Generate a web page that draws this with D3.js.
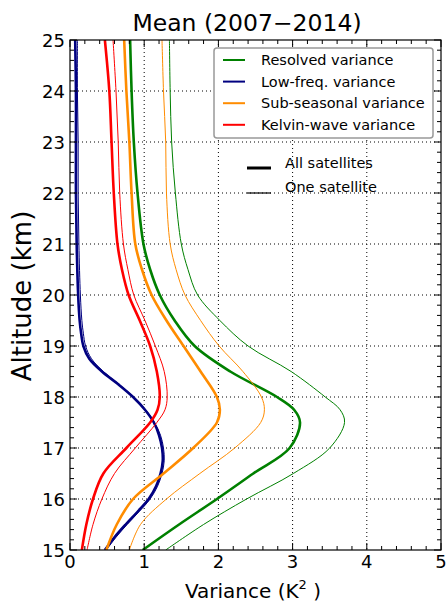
<!DOCTYPE html>
<html><head><meta charset="utf-8">
<script src="https://cdn.jsdelivr.net/npm/d3@7"></script>
<style>body{margin:0;background:#fff}svg{display:block}text{font-family:"DejaVu Sans",sans-serif}</style>
</head><body><svg id="c" width="448" height="604"></svg>
<script>
// Altitudes (km) at which values were read
const altitudes = [25, 24, 23, 22, 21, 20.5, 20, 19.5, 19, 18.5, 18, 17.75, 17.5, 17, 16.5, 16, 15.5, 15];
// Resolved variance (K^2)
const resolvedAll = [0.81, 0.83, 0.86, 0.91, 0.99, 1.08, 1.21, 1.41, 1.68, 2.16, 2.79, 3.02, 3.10, 2.96, 2.47, 1.98, 1.47, 0.98];
const resolvedOne = [1.34, 1.35, 1.37, 1.42, 1.50, 1.59, 1.72, 2.02, 2.40, 2.98, 3.44, 3.64, 3.70, 3.50, 3.01, 2.38, 1.80, 1.29];
// Sub-seasonal variance
const subAll = [0.73, 0.76, 0.80, 0.83, 0.88, 0.97, 1.10, 1.30, 1.53, 1.76, 1.98, 2.02, 1.98, 1.66, 1.26, 0.85, 0.63, 0.49];
const subOne = [1.24, 1.26, 1.29, 1.30, 1.35, 1.43, 1.55, 1.76, 2.01, 2.33, 2.58, 2.62, 2.57, 2.22, 1.75, 1.30, 0.95, 0.80];
// Kelvin-wave variance
const kelvinAll = [0.47, 0.53, 0.56, 0.59, 0.64, 0.70, 0.79, 0.94, 1.08, 1.17, 1.21, 1.18, 1.08, 0.76, 0.45, 0.31, 0.22, 0.16];
const kelvinOne = [0.58, 0.62, 0.65, 0.67, 0.72, 0.78, 0.86, 1.01, 1.15, 1.27, 1.31, 1.28, 1.17, 0.88, 0.60, 0.43, 0.31, 0.23];
// Low-frequency variance (finer altitude grid)
const lowAltitudes = [25, 24, 23, 22, 21, 20, 19.5, 19.25, 19, 18.75, 18.5, 18.25, 18, 17.75, 17.5, 17.25, 17, 16.75, 16.5, 16.25, 16, 15.75, 15.5, 15.25, 15];
const lowAll = [0.07, 0.08, 0.08, 0.08, 0.09, 0.11, 0.13, 0.15, 0.18, 0.26, 0.43, 0.65, 0.85, 1.01, 1.13, 1.20, 1.24, 1.25, 1.22, 1.16, 1.06, 0.91, 0.75, 0.60, 0.47];
const lowOne = [0.10, 0.10, 0.11, 0.11, 0.12, 0.14, 0.16, 0.18, 0.21, 0.29, 0.45, 0.66, 0.86, 1.02, 1.14, 1.22, 1.26, 1.27, 1.24, 1.18, 1.08, 0.93, 0.77, 0.62, 0.49];

const legendLabels = ["Resolved variance", "Low-freq. variance", "Sub-seasonal variance", "Kelvin-wave variance"];
const colors = ["#008000", "#000080", "#ff8c00", "#ff0000"];
const xTicks = [0, 1, 2, 3, 4, 5];
const yTicks = [15, 16, 17, 18, 19, 20, 21, 22, 23, 24, 25];

const svg = d3.select("#c");
const L = 70, R = 441, T = 40, B = 550;
const x = d3.scaleLinear().domain([0, 5]).range([L, R]);
const y = d3.scaleLinear().domain([15, 25]).range([B, T]);

svg.append("defs").append("clipPath").attr("id", "clip")
  .append("rect").attr("x", L).attr("y", T).attr("width", R - L).attr("height", B - T);

// grid
const grid = svg.append("g").attr("stroke", "#000").attr("stroke-width", 1).attr("stroke-dasharray", "1,3");
xTicks.slice(1, -1).forEach(v => grid.append("line").attr("x1", x(v)).attr("x2", x(v)).attr("y1", T).attr("y2", B));
yTicks.slice(1, -1).forEach(v => grid.append("line").attr("y1", y(v)).attr("y2", y(v)).attr("x1", L).attr("x2", R));

// curves
const series = [
  {alts: altitudes, vals: resolvedOne, c: 0, w: 1},
  {alts: altitudes, vals: resolvedAll, c: 0, w: 2.6},
  {alts: lowAltitudes, vals: lowOne, c: 1, w: 1},
  {alts: lowAltitudes, vals: lowAll, c: 1, w: 2.6},
  {alts: altitudes, vals: subOne, c: 2, w: 1},
  {alts: altitudes, vals: subAll, c: 2, w: 2.6},
  {alts: altitudes, vals: kelvinOne, c: 3, w: 1},
  {alts: altitudes, vals: kelvinAll, c: 3, w: 2.6}
];
const line = d3.line().x(d => x(d[1])).y(d => y(d[0])).curve(d3.curveCatmullRom.alpha(0.5));
const lg = svg.append("g").attr("clip-path", "url(#clip)");
series.forEach(s => {
  lg.append("path").attr("d", line(s.alts.map((a, i) => [a, s.vals[i]])))
    .attr("fill", "none").attr("stroke", colors[s.c]).attr("stroke-width", s.w);
});

// axes (ticks inward on all sides)
const ax = svg.append("g").attr("stroke", "#000");
d3.range(0, 5.001, 0.2).forEach(v => {
  const major = Math.abs(v - Math.round(v)) < 1e-6;
  const len = major ? 7 : 4;
  ax.append("line").attr("x1", x(v)).attr("x2", x(v)).attr("y1", B).attr("y2", B - len);
  ax.append("line").attr("x1", x(v)).attr("x2", x(v)).attr("y1", T).attr("y2", T + len);
});
d3.range(15, 25.001, 0.2).forEach(v => {
  const major = Math.abs(v - Math.round(v)) < 1e-6;
  const len = major ? 7 : 4;
  ax.append("line").attr("y1", y(v)).attr("y2", y(v)).attr("x1", L).attr("x2", L + len);
  ax.append("line").attr("y1", y(v)).attr("y2", y(v)).attr("x1", R).attr("x2", R - len);
});
svg.append("rect").attr("x", L).attr("y", T).attr("width", R - L).attr("height", B - T)
  .attr("fill", "none").attr("stroke", "#000").attr("stroke-width", 1.2);

// tick labels
xTicks.forEach(v => svg.append("text").attr("x", x(v)).attr("y", B + 18).attr("text-anchor", "middle")
  .attr("font-size", 18).text(v));
yTicks.forEach(v => svg.append("text").attr("x", L - 5).attr("y", y(v) + 6.5).attr("text-anchor", "end")
  .attr("font-size", 18).text(v));

// axis labels and title
const xl = svg.append("text").attr("x", 253).attr("y", 598).attr("text-anchor", "middle").attr("font-size", 20);
xl.append("tspan").text("Variance (K");
xl.append("tspan").attr("font-size", 13).attr("dy", -9).text("2");
xl.append("tspan").attr("dy", 9).text(" )");
svg.append("text").attr("transform", "translate(31,296) rotate(-90)").attr("text-anchor", "middle")
  .attr("font-size", 26).text("Altitude (km)");
svg.append("text").attr("x", 247).attr("y", 31).attr("text-anchor", "middle").attr("font-size", 23.5)
  .text("Mean (2007\u22122014)");

// legend
svg.append("rect").attr("x", 214).attr("y", 48).attr("width", 219).attr("height", 90).attr("rx", 3)
  .attr("fill", "#fff").attr("stroke", "#999").attr("stroke-width", 1.5);
legendLabels.forEach((t, i) => {
  const yy = 60 + i * 21.6;
  svg.append("line").attr("x1", 223).attr("x2", 245).attr("y1", yy).attr("y2", yy)
    .attr("stroke", colors[i]).attr("stroke-width", 2);
  svg.append("text").attr("x", 261).attr("y", yy + 5).attr("font-size", 14.5).text(t);
});
const satLabels = ["All satellites", "One satellite"];
const satWidths = [3, 1.2];
satLabels.forEach((t, i) => {
  const ly = [168, 193][i];
  svg.append("line").attr("x1", 247).attr("x2", 271).attr("y1", ly).attr("y2", ly)
    .attr("stroke", "#000").attr("stroke-width", satWidths[i]);
  svg.append("text").attr("x", 285).attr("y", [168, 192][i]).attr("font-size", 14.5).text(t);
});
</script></body></html>
